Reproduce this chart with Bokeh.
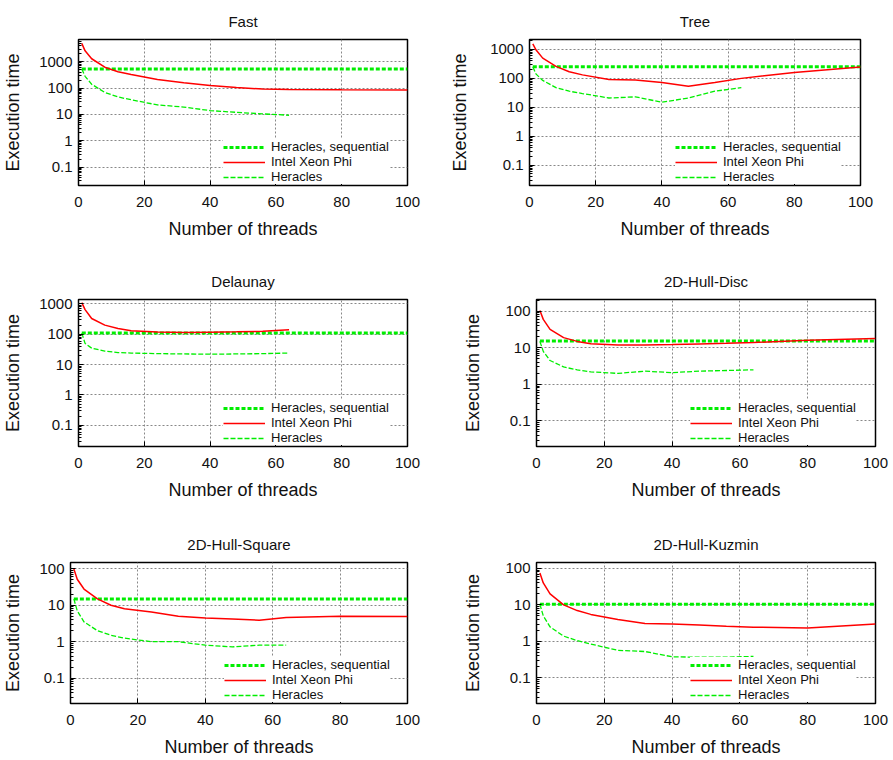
from bokeh.plotting import figure
from bokeh.models import (FixedTicker, CustomJSTickFormatter, Legend, LegendItem,
                          Range1d, ColumnDataSource)
from bokeh.layouts import column, row
from bokeh.embed import file_html
from bokeh.resources import INLINE

FONT = "Liberation Sans"

# ---------------- data ----------------
titles = ["Fast", "Tree", "Delaunay", "2D-Hull-Disc", "2D-Hull-Square", "2D-Hull-Kuzmin"]

phi_threads_long = [1, 2, 4, 8, 12, 16, 24, 32, 40, 48, 56, 64, 80, 100]
phi_threads_short = [1, 2, 4, 8, 12, 16, 24, 32, 40, 48, 56, 64]
heracles_threads = [1, 2, 4, 8, 12, 16, 24, 32, 40, 48, 56, 64]
seq_threads = [1, 100]

fast_phi = [5000, 2600, 1300, 620, 420, 330, 210, 160, 125, 105, 92, 88, 86, 85]
fast_her = [530, 280, 140, 68, 46, 36, 23, 19, 14, 12, 10.5, 9.3]
fast_seq = 530

tree_phi = [1550, 950, 500, 260, 170, 132, 92, 88, 72, 53, 72, 100, 160, 245]
tree_her = [250, 140, 85, 48, 36, 30, 21, 23, 15, 21, 36, 48]
tree_seq = 250

delaunay_phi = [1100, 650, 330, 200, 155, 130, 118, 115, 117, 120, 125, 140]
delaunay_her = [110, 50, 35, 28, 25, 24, 23, 22.5, 22, 22.5, 23, 24]
delaunay_seq = 110

disc_phi = [105, 60, 32, 19, 15, 13, 12, 12, 12.3, 12.8, 13.3, 14, 16, 18]
disc_her = [15, 8, 4.5, 3, 2.5, 2.2, 2.0, 2.3, 2.1, 2.3, 2.4, 2.5]
disc_seq = 15.5

square_phi = [100, 52, 28, 15, 10, 8, 6.5, 5, 4.5, 4.2, 3.9, 4.6, 5.0, 4.9]
square_her = [15, 7, 3.5, 2, 1.5, 1.25, 1.0, 1.0, 0.8, 0.72, 0.8, 0.8]
square_seq = 15

kuzmin_phi = [75, 40, 20, 10, 7, 5.5, 4.0, 3.1, 3.0, 2.8, 2.6, 2.45, 2.35, 3.0]
kuzmin_her = [10.5, 5, 2.5, 1.4, 1.05, 0.85, 0.57, 0.53, 0.38, 0.37, 0.37, 0.39]
kuzmin_seq = 10.5

y_tick_values = [0.1, 1, 10, 100, 1000]
x_tick_values = [0, 20, 40, 60, 80, 100]
y_min = 0.02
y_max_values = [7000, 2200, 1400, 210, 150, 145]

GREEN = "#00ee00"
RED = "#ff0000"
LEGEND_W = 168  # approx legend box width in px


def make_panel(title, phi_x, phi_y, her_y, seq_val, ymax, width, height,
               b_left, b_right, b_top, b_bottom, ylab_standoff):
    p = figure(width=width, height=height, y_axis_type="log",
               x_range=Range1d(0, 100), y_range=Range1d(y_min, ymax),
               output_backend="svg", toolbar_location=None,
               min_border_left=b_left, min_border_right=b_right,
               min_border_top=b_top, min_border_bottom=b_bottom)
    p.title.text = title
    p.title.align = "center"
    p.title.vertical_align = "top"
    p.title.standoff = 15
    p.title.text_font = FONT
    p.title.text_font_size = "15px"
    p.title.text_font_style = "normal"
    p.title.text_color = "#111111"

    seq_src = ColumnDataSource(dict(x=seq_threads, y=[seq_val] * len(seq_threads)))
    phi_src = ColumnDataSource(dict(x=phi_x, y=phi_y))
    her_src = ColumnDataSource(dict(x=heracles_threads, y=her_y))

    r_seq = p.line("x", "y", source=seq_src, line_color=GREEN, line_width=3,
                   line_dash="4 2")
    r_phi = p.line("x", "y", source=phi_src, line_color=RED, line_width=1.5)
    r_her = p.line("x", "y", source=her_src, line_color=GREEN, line_width=1.3,
                   line_dash="5 2")

    minor = [m * 10 ** e for e in range(-2, 4) for m in range(2, 10)]
    p.yaxis.ticker = FixedTicker(ticks=y_tick_values, minor_ticks=minor)
    p.yaxis.formatter = CustomJSTickFormatter(
        code="return tick >= 1 ? tick.toFixed(0) : String(Math.round(tick*10)/10);")
    p.xaxis.ticker = FixedTicker(ticks=x_tick_values)

    for ax in (p.xaxis[0], p.yaxis[0]):
        ax.axis_line_color = None
        ax.major_tick_in = 5
        ax.major_tick_out = 0
        ax.minor_tick_in = 3
        ax.minor_tick_out = 0
        ax.major_tick_line_color = "black"
        ax.minor_tick_line_color = "black"
        ax.major_label_text_font = FONT
        ax.major_label_text_font_size = "15px"
        ax.major_label_text_color = "#111111"
        ax.axis_label_text_font = FONT
        ax.axis_label_text_font_size = "18px"
        ax.axis_label_text_font_style = "normal"
        ax.axis_label_text_color = "#111111"
    p.xaxis.axis_label = "Number of threads"
    p.yaxis.axis_label = "Execution time"
    p.xaxis.major_label_standoff = 11
    p.xaxis.axis_label_standoff = 9
    p.yaxis.major_label_standoff = 6
    p.yaxis.axis_label_standoff = ylab_standoff

    p.outline_line_color = "black"
    p.outline_line_width = 1.5
    p.outline_line_alpha = 1

    for g in (p.xgrid[0], p.ygrid[0]):
        g.grid_line_color = "#888888"
        g.grid_line_dash = "2 2"
        g.grid_line_width = 1
    p.ygrid.ticker = FixedTicker(ticks=y_tick_values)
    p.xgrid.ticker = FixedTicker(ticks=x_tick_values)

    frame_w = width - b_left - b_right
    legend = Legend(items=[
        LegendItem(label="Heracles, sequential", renderers=[r_seq]),
        LegendItem(label="Intel Xeon Phi", renderers=[r_phi]),
        LegendItem(label="Heracles", renderers=[r_her]),
    ], location=(frame_w - 17 - LEGEND_W, 1))
    legend.label_text_font = FONT
    legend.label_text_font_size = "13px"
    legend.label_text_line_height = 1.0
    legend.label_text_color = "#111111"
    legend.glyph_width = 42
    legend.glyph_height = 12
    legend.label_height = 12
    legend.label_standoff = 6
    legend.spacing = 0
    legend.padding = 1
    legend.margin = 0
    legend.border_line_color = None
    legend.background_fill_color = "white"
    legend.background_fill_alpha = 1.0
    p.add_layout(legend)
    return p


LW, RW = 446, 446
H1, H2, H3 = 260, 250, 249

p1 = make_panel(titles[0], phi_threads_long, fast_phi, fast_her, fast_seq, y_max_values[0],
                LW, H1, 77, 39, 39, 75, 13)
p2 = make_panel(titles[1], phi_threads_long, tree_phi, tree_her, tree_seq, y_max_values[1],
                RW, H1, 83, 32, 39, 75, 17)
p3 = make_panel(titles[2], phi_threads_short, delaunay_phi, delaunay_her, delaunay_seq,
                y_max_values[2], LW, H2, 77, 39, 39, 64, 13)
p4 = make_panel(titles[3], phi_threads_long, disc_phi, disc_her, disc_seq, y_max_values[3],
                RW, H2, 90, 17, 39, 64, 19)
p5 = make_panel(titles[4], phi_threads_long, square_phi, square_her, square_seq,
                y_max_values[4], LW, H3, 68, 39, 52, 51, 13)
p6 = make_panel(titles[5], phi_threads_long, kuzmin_phi, kuzmin_her, kuzmin_seq,
                y_max_values[5], RW, H3, 90, 17, 52, 51, 19)

layout = column(row(p1, p2), row(p3, p4), row(p5, p6))

open("out.html", "w").write(file_html(layout, INLINE))
